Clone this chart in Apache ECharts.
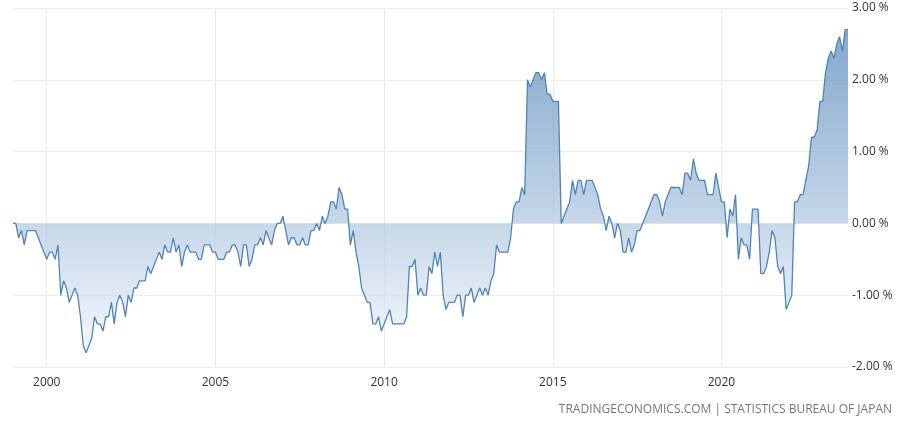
<!DOCTYPE html>
<html><head><meta charset="utf-8">
<script src="https://cdn.jsdelivr.net/npm/echarts@6/dist/echarts.min.js"></script>
<style>html,body{margin:0;padding:0;background:#fff}#c{width:900px;height:425px}</style>
</head><body><div id="c"></div>
<script>
const startYear = 1999;
const values = [
// 1999
0,0,-0.2,-0.1,-0.3,-0.1,-0.1,-0.1,-0.1,-0.2,-0.3,-0.4,
// 2000
-0.5,-0.4,-0.4,-0.5,-0.3,-1.0,-0.8,-0.9,-1.1,-1.0,-0.9,-1.0,
// 2001
-1.3,-1.7,-1.8,-1.7,-1.6,-1.3,-1.4,-1.4,-1.5,-1.3,-1.3,-1.1,
// 2002
-1.4,-1.1,-1.0,-1.1,-1.3,-1.0,-1.1,-0.9,-0.9,-0.8,-0.8,-0.8,
// 2003
-0.6,-0.7,-0.6,-0.5,-0.4,-0.5,-0.3,-0.4,-0.4,-0.2,-0.4,-0.3,
// 2004
-0.6,-0.4,-0.3,-0.4,-0.4,-0.4,-0.5,-0.5,-0.3,-0.3,-0.3,-0.4,
// 2005
-0.4,-0.5,-0.5,-0.5,-0.4,-0.4,-0.3,-0.3,-0.4,-0.6,-0.3,-0.3,
// 2006
-0.6,-0.5,-0.3,-0.3,-0.2,-0.3,-0.1,-0.2,-0.3,-0.1,0,0,
// 2007
0.1,-0.1,-0.3,-0.2,-0.2,-0.3,-0.3,-0.2,-0.3,-0.3,-0.1,-0.1,
// 2008
0,-0.1,0.1,0,0.1,0.3,0.3,0.2,0.5,0.4,0.2,0.2,
// 2009
-0.3,-0.1,-0.4,-0.6,-0.9,-1.0,-1.1,-1.1,-1.4,-1.4,-1.3,-1.5,
// 2010
-1.4,-1.3,-1.2,-1.4,-1.4,-1.4,-1.4,-1.4,-1.3,-0.6,-0.6,-0.5,
// 2011
-1.0,-0.9,-1.0,-1.0,-0.6,-0.7,-0.4,-0.6,-0.4,-1.0,-1.2,-1.1,
// 2012
-1.1,-1.1,-1.0,-1.0,-1.3,-1.0,-1.0,-0.9,-1.1,-1.0,-0.9,-1.0,
// 2013
-0.9,-1.0,-0.8,-0.7,-0.3,-0.4,-0.4,-0.4,-0.4,-0.2,0.2,0.3,
// 2014
0.3,0.5,0.4,2.0,1.9,2.0,2.1,2.1,2.0,2.1,1.8,1.8,
// 2015
1.7,1.7,1.7,0.0,0.1,0.2,0.3,0.6,0.4,0.6,0.6,0.4,
// 2016
0.6,0.6,0.6,0.5,0.4,0.2,0.1,-0.1,0.1,0.0,-0.2,0.0,
// 2017
-0.1,-0.4,-0.4,-0.2,-0.4,-0.3,-0.1,-0.1,0.0,0.1,0.2,0.3,
// 2018
0.4,0.4,0.3,0.1,0.3,0.4,0.5,0.5,0.5,0.5,0.4,0.7,
// 2019
0.7,0.6,0.9,0.7,0.6,0.6,0.6,0.4,0.4,0.4,0.7,0.5,
// 2020
0.3,0.3,-0.2,0.2,0.1,0.4,-0.5,-0.2,-0.3,-0.3,-0.5,0.2,
// 2021
0.2,0.2,-0.7,-0.7,-0.6,-0.4,-0.1,-0.2,-0.6,-0.7,-0.6,-1.2,
// 2022
-1.1,-1.0,0.3,0.3,0.4,0.4,0.6,0.8,1.2,1.2,1.3,1.7,
// 2023
1.7,2.1,2.3,2.4,2.3,2.5,2.6,2.4,2.7,2.7
];
const categories = values.map((v,i)=> (startYear+Math.floor(i/12))+'-'+String(i%12+1).padStart(2,'0'));
const yTicks = [-2,-1,0,1,2,3];
const sourceText = 'TRADINGECONOMICS.COM | STATISTICS BUREAU OF JAPAN';

const isTick = (i)=> i%60===12;
const chart = echarts.init(document.getElementById('c'));
chart.setOption({
  animation:false,
  grid:{left:13,right:52,top:8,bottom:58,containLabel:false},
  graphic:[{type:'text',right:8,top:404,style:{text:sourceText,fill:'#777',font:'12px "Open Sans", sans-serif'}}],
  xAxis:{type:'category',data:categories,boundaryGap:false,
    axisLine:{show:false},axisTick:{show:false},
    axisLabel:{interval:(i)=>isTick(i),formatter:(v)=>v.slice(0,4),color:'#333',fontSize:12,margin:10,fontFamily:'"Open Sans", sans-serif'},
    splitLine:{show:true,interval:(i)=>isTick(i),lineStyle:{color:'#ebebeb'}}},
  yAxis:{type:'value',position:'right',min:yTicks[0],max:yTicks[yTicks.length-1],interval:1,
    axisLine:{show:false},axisTick:{show:false},
    axisLabel:{formatter:(v)=>v.toFixed(2)+' %',color:'#333',fontSize:12,margin:4,fontFamily:'"Open Sans", sans-serif'},
    splitLine:{lineStyle:{color:'#ebebeb'}}},
  series:[{type:'line',data:values,symbol:'none',
    lineStyle:{color:'#4f84b6',width:1.3},
    areaStyle:{origin:0,color:{type:'linear',x:0,y:8,x2:0,y2:367,global:true,
      colorStops:[{offset:0,color:'rgb(66,121,178)'},{offset:1,color:'rgb(246,249,252)'}]}}}]
});
</script></body></html>
